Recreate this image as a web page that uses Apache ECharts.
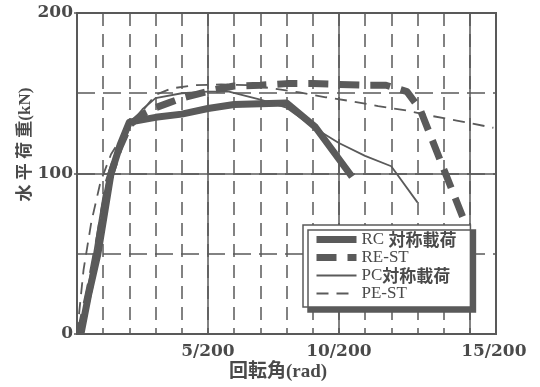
<!DOCTYPE html>
<html>
<head>
<meta charset="utf-8">
<script src="https://cdn.jsdelivr.net/npm/echarts@6/dist/echarts.min.js"></script>
<style>
  html, body { margin: 0; padding: 0; background: #ffffff; }
  #chart { width: 540px; height: 387px; }
</style>
</head>
<body>
<div id="chart"></div>
<script>
// Rotation angle in units of 1/200 rad, horizontal load in kN
const rcAngle   = [0.15, 0.45, 0.8, 1.05, 1.3, 1.65, 2.0, 3.0, 4.0, 5.0, 6.0, 7.0, 8.0, 9.1, 10.5];
const rcLoad    = [0, 25, 50, 75, 100, 118, 132, 135, 137, 140.5, 143, 143.5, 144, 129, 98];

const restAngle = [0.1, 0.5, 0.85, 1.2, 1.6, 2.0, 2.5, 3.0, 3.5, 4.0, 4.6, 5.2, 6.0, 7.0, 8.0, 9.0, 10.0, 11.0, 11.8, 12.6, 13.1, 14.8];
const restLoad  = [0, 30, 60, 95, 115, 130, 137, 141, 144, 147, 149.5, 152, 154.5, 155, 156, 156, 155.5, 155, 155, 151, 140, 70];

const pcAngle   = [0.1, 0.55, 0.9, 1.2, 1.6, 2.0, 2.5, 3.0, 4.0, 5.0, 5.8, 7.0, 8.0, 9.1, 10.0, 11.0, 12.0, 13.0];
const pcLoad    = [0, 40, 75, 100, 118, 130, 140, 147, 150, 151, 151, 146, 141, 128, 119, 111, 104.5, 82];

const pestAngle = [0, 0.25, 0.55, 0.9, 1.3, 1.8, 2.4, 3.0, 3.6, 4.5, 5.5, 6.5, 7.5, 8.5, 9.5, 10.5, 11.5, 12.5, 13.5, 14.5, 15.9];
const pestLoad  = [0, 40, 70, 95, 112, 125, 137, 149, 153, 155, 155.5, 155, 153, 150.5, 147.5, 145, 142, 139.5, 136, 133, 128.5];

const seriesNames = ['RC 対称載荷', 'RE-ST', 'PC対称載荷', 'PE-ST'];
const xTickLabels = { 5: '5/200', 10: '10/200', 15: '15/200' };
const yTickLabels = { 0: '0', 100: '100', 200: '200' };

const INK = '#5a5a5a';
const TEXT = '#4a4a4a';
const SERIF = "'DejaVu Serif', 'Liberation Serif', serif";

function pairs(xs, ys) { return xs.map((x, i) => [x, ys[i]]); }

const chart = echarts.init(document.getElementById('chart'), null, { renderer: 'canvas' });

chart.setOption({
  backgroundColor: '#ffffff',
  animation: false,
  grid: {
    left: 77, right: 44, top: 13, bottom: 52,
    show: true, borderColor: INK, borderWidth: 2, backgroundColor: 'transparent'
  },
  legend: {
    data: seriesNames,
    orient: 'vertical',
    left: 303, top: 225,
    padding: [6, 14, 5, 10],
    itemGap: 1, itemWidth: 40, itemHeight: 14,
    backgroundColor: '#ffffff',
    borderColor: INK, borderWidth: 1.5, borderRadius: 0,
    shadowColor: INK, shadowBlur: 0, shadowOffsetX: 5, shadowOffsetY: 5,
    selectedMode: false,
    itemStyle: { opacity: 0, borderWidth: 0 },
    lineStyle: { width: 'inherit' },
    formatter: function (name) {
      const m = name.match(/^([A-Z\-]+)( ?)(.*)$/);
      return '{a|' + m[1] + '}' + (m[2] ? '{s| }' : '') + (m[3] ? '{b|' + m[3] + '}' : '');
    },
    textStyle: {
      color: TEXT,
      lineHeight: 15,
      rich: {
        a: { fontFamily: "'Liberation Serif', serif", fontSize: 17, lineHeight: 15, color: TEXT },
        s: { fontFamily: "'Liberation Serif', serif", fontSize: 17, lineHeight: 15 },
        b: { fontFamily: "'Noto Sans CJK JP', sans-serif", fontWeight: 'bold', fontSize: 17, lineHeight: 15, color: TEXT }
      }
    }
  },
  xAxis: [
    {
      type: 'value', min: 0, max: 16, interval: 5,
      name: '回転角(rad)', nameLocation: 'middle', nameGap: 29, nameMoveOverlap: false,
      nameTextStyle: {
        fontFamily: "'Liberation Serif', 'Noto Sans CJK JP', serif",
        fontWeight: 'bold', fontSize: 19, color: TEXT, padding: [0, 17, 0, 0]
      },
      axisLine: { show: false },
      axisTick: { show: false },
      axisLabel: {
        margin: 9,
        formatter: function (v) {
          if (!xTickLabels[v]) return '';
          return v === 15 ? '{far|' + xTickLabels[v] + '}' : '{n|' + xTickLabels[v] + '}';
        },
        rich: {
          n: { fontFamily: SERIF, fontWeight: 'bold', fontSize: 17, color: TEXT },
          far: { fontFamily: SERIF, fontWeight: 'bold', fontSize: 17, color: TEXT, padding: [0, 0, 0, 48] }
        }
      },
      splitLine: { show: true, lineStyle: { color: INK, width: 1.5, type: 'solid' } }
    },
    {
      type: 'value', min: 0, max: 16, interval: 1,
      axisLine: { show: false }, axisTick: { show: false }, axisLabel: { show: false },
      splitLine: { show: true, lineStyle: { color: INK, width: 1.5, type: [13, 8] } }
    }
  ],
  yAxis: [
    {
      type: 'value', min: 0, max: 200, interval: 100,
      name: '水 平 荷 重(kN)', nameLocation: 'middle', nameGap: 43, nameRotate: 90, nameMoveOverlap: false,
      nameTextStyle: {
        fontFamily: "'Liberation Serif', 'Noto Sans CJK JP', serif",
        fontWeight: 'bold', fontSize: 17, color: TEXT, padding: [0, 0, 0, 58]
      },
      axisLine: { show: false },
      axisTick: { show: true, length: 3, lineStyle: { color: INK, width: 1.5 } },
      axisLabel: {
        margin: 4,
        fontFamily: SERIF, fontWeight: 'bold', fontSize: 17, color: TEXT,
        formatter: function (v) { return yTickLabels[v] || ''; }
      },
      splitLine: { show: true, lineStyle: { color: INK, width: 1.5, type: 'solid' } }
    },
    {
      type: 'value', min: 0, max: 200, interval: 50,
      axisLine: { show: false }, axisTick: { show: false }, axisLabel: { show: false },
      splitLine: { show: true, lineStyle: { color: INK, width: 1.5, type: [18, 8] } }
    }
  ],
  series: [
    {
      name: seriesNames[0], type: 'line', symbol: 'none', silent: true,
      data: pairs(rcAngle, rcLoad),
      lineStyle: { color: INK, width: 7, type: 'solid', cap: 'butt', join: 'round' },
      itemStyle: { color: INK }
    },
    {
      name: seriesNames[1], type: 'line', symbol: 'none', silent: true,
      data: pairs(restAngle, restLoad),
      lineStyle: { color: INK, width: 7, type: [20, 11], cap: 'butt', join: 'round' },
      itemStyle: { color: INK }
    },
    {
      name: seriesNames[2], type: 'line', symbol: 'none', silent: true,
      data: pairs(pcAngle, pcLoad),
      lineStyle: { color: INK, width: 1.8, type: 'solid' },
      itemStyle: { color: INK }
    },
    {
      name: seriesNames[3], type: 'line', symbol: 'none', silent: true,
      data: pairs(pestAngle, pestLoad),
      lineStyle: { color: INK, width: 1.8, type: [12, 8] },
      itemStyle: { color: INK }
    }
  ]
});
</script>
</body>
</html>
